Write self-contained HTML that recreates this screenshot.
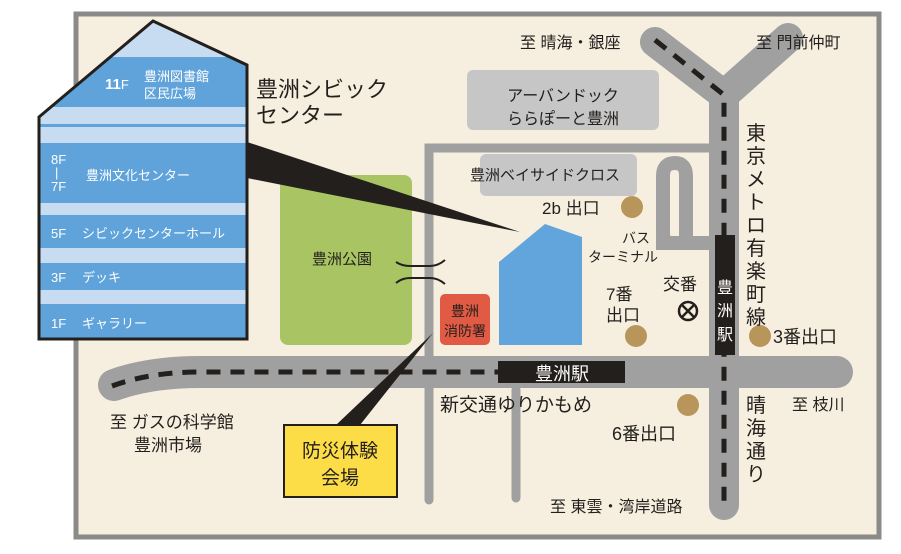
<!DOCTYPE html>
<html><head><meta charset="utf-8"><style>
html,body{margin:0;padding:0;background:#fff}
svg{display:block}
text{font-family:"Liberation Sans","Noto Sans CJK JP",sans-serif;fill:#231f1c}
</style></head><body>
<svg width="901" height="554" viewBox="0 0 901 554" xmlns="http://www.w3.org/2000/svg">
<rect x="0" y="0" width="901" height="554" fill="#fff"/>
<rect x="76" y="14" width="803" height="523" fill="#f6efe0" stroke="#8a8a88" stroke-width="5"/>
<g stroke="#a0a0a0" stroke-width="9" fill="none" stroke-linecap="round">
<path d="M429,500 V148 H715"/>
<path d="M516,390 V498"/>
</g>
<rect x="467" y="70" width="192" height="60" rx="6" fill="#c6c6c6"/>
<rect x="480" y="154" width="157" height="42" rx="6" fill="#c6c6c6"/>
<rect x="280" y="175" width="132" height="170" rx="8" fill="#a9c462"/>
<path d="M712,243 H672 Q663,243 663,234 V176 Q663,163 675,163 Q686,163 686,176 V236" stroke="#a0a0a0" stroke-width="14" fill="none"/>
<rect x="656" y="236" width="56" height="14" fill="#a0a0a0"/>
<g stroke="#a0a0a0" fill="none" stroke-linecap="round">
<path d="M114,385 Q150,372 200,372 H837" stroke-width="32"/>
<path d="M724,505 V95 L655,42 M724,95 L788,38" stroke-width="30"/>
</g>
<g stroke="#231f1c" stroke-width="5" fill="none" stroke-dasharray="14,10">
<path d="M112,386 Q150,372 200,372 H500"/>
<path d="M655,40 L724,95 V510"/>
</g>
<rect x="498" y="361" width="127" height="22" fill="#231f1c"/>
<text x="562" y="380" font-size="18" text-anchor="middle" style="fill:#fff">豊洲駅</text>
<rect x="715" y="235" width="20" height="120" fill="#231f1c"/>
<text x="725" y="293" font-size="16" text-anchor="middle" style="fill:#fff">豊</text>
<text x="725" y="316" font-size="16" text-anchor="middle" style="fill:#fff">洲</text>
<text x="725" y="340" font-size="16" text-anchor="middle" style="fill:#fff">駅</text>
<rect x="440" y="294" width="50" height="51" rx="5" fill="#e05a44"/>
<text x="465" y="316" font-size="14" text-anchor="middle">豊洲</text>
<text x="465" y="336" font-size="14" text-anchor="middle">消防署</text>
<polygon points="499,262 545,224 582,237 582,345 499,345" fill="#62a5dc"/>
<polygon points="247,142 247,178 520,232" fill="#231f1c"/>
<polygon points="433,333 336,425 360,425" fill="#231f1c"/>
<rect x="284" y="425" width="113" height="72" fill="#fcdc47" stroke="#231f1c" stroke-width="2"/>
<text x="340" y="457" font-size="19" text-anchor="middle">防災体験</text>
<text x="340" y="484" font-size="19" text-anchor="middle">会場</text>
<clipPath id="b"><polygon points="39,117 153,21 247,65 247,339 39,339"/></clipPath>
<g clip-path="url(#b)">
<rect x="39" y="20" width="210" height="320" fill="#c8dcf1"/>
<rect x="39" y="57" width="210" height="50" fill="#5fa3da"/>
<rect x="39" y="124" width="210" height="3" fill="#5fa3da"/>
<rect x="39" y="143" width="210" height="60" fill="#5fa3da"/>
<rect x="39" y="215" width="210" height="33" fill="#5fa3da"/>
<rect x="39" y="263" width="210" height="27" fill="#5fa3da"/>
<rect x="39" y="304" width="210" height="36" fill="#5fa3da"/>
</g>
<polygon points="39,117 153,21 247,65 247,339 39,339" fill="none" stroke="#231f1c" stroke-width="3"/>
<g font-size="13">
<text x="105" y="89" font-size="15" font-weight="bold" style="fill:#fff">11<tspan font-weight="normal" font-size="13">F</tspan></text>
<text x="144" y="81" style="fill:#fff">豊洲図書館</text>
<text x="144" y="98" style="fill:#fff">区民広場</text>
<text x="51" y="164" style="fill:#fff">8F</text>
<text x="55" y="177" style="fill:#fff">|</text>
<text x="51" y="191" style="fill:#fff">7F</text>
<text x="86" y="180" style="fill:#fff">豊洲文化センター</text>
<text x="51" y="238" style="fill:#fff">5F</text>
<text x="82" y="238" style="fill:#fff">シビックセンターホール</text>
<text x="51" y="282" style="fill:#fff">3F</text>
<text x="82" y="282" style="fill:#fff">デッキ</text>
<text x="51" y="328" style="fill:#fff">1F</text>
<text x="82" y="328" style="fill:#fff">ギャラリー</text>
</g>
<g fill="#b8955a">
<circle cx="632" cy="207" r="11"/><circle cx="636" cy="336" r="11"/>
<circle cx="760" cy="336" r="11"/><circle cx="688" cy="405" r="11"/>
</g>
<circle cx="688" cy="311" r="9" fill="none" stroke="#231f1c" stroke-width="2.5"/>
<path d="M682,305 L694,317 M694,305 L682,317" stroke="#231f1c" stroke-width="2.5"/>
<path d="M396,262 Q402,266 410,266 H430 Q438,266 445,260 M396,283 Q402,278 410,278 H430 Q438,278 445,284" stroke="#231f1c" stroke-width="2" fill="none"/>
<text x="256" y="97" font-size="22">豊洲シビック</text>
<text x="256" y="123" font-size="22">センター</text>
<text x="312" y="264" font-size="15">豊洲公園</text>
<text x="563" y="101" font-size="16" text-anchor="middle">アーバンドック</text>
<text x="563" y="124" font-size="16" text-anchor="middle">ららぽーと豊洲</text>
<text x="470" y="180" font-size="15">豊洲ベイサイドクロス</text>
<text x="542" y="214" font-size="17">2b 出口</text>
<text x="622" y="243" font-size="14">バス</text>
<text x="588" y="262" font-size="14">ターミナル</text>
<text x="606" y="300" font-size="17">7番</text>
<text x="606" y="321" font-size="17">出口</text>
<text x="663" y="290" font-size="17">交番</text>
<text x="773" y="343" font-size="18">3番出口</text>
<text x="440" y="411" font-size="19">新交通ゆりかもめ</text>
<text x="612" y="440" font-size="18">6番出口</text>
<text x="792" y="410" font-size="16">至 枝川</text>
<text x="520" y="48" font-size="16">至 晴海・銀座</text>
<text x="756" y="48" font-size="16">至 門前仲町</text>
<text x="550" y="512" font-size="16">至 東雲・湾岸道路</text>
<text x="110" y="428" font-size="17">至 ガスの科学館</text>
<text x="134" y="451" font-size="17">豊洲市場</text>
<g font-size="20" text-anchor="middle">
<text x="756" y="140">東</text><text x="756" y="163">京</text><text x="756" y="186">メ</text>
<text x="756" y="209">ト</text><text x="756" y="232">ロ</text><text x="756" y="255">有</text>
<text x="756" y="278">楽</text><text x="756" y="301">町</text><text x="756" y="324">線</text>
<text x="756" y="412">晴</text><text x="756" y="435">海</text><text x="756" y="458">通</text><text x="756" y="481">り</text>
</g>
</svg>
</body></html>
